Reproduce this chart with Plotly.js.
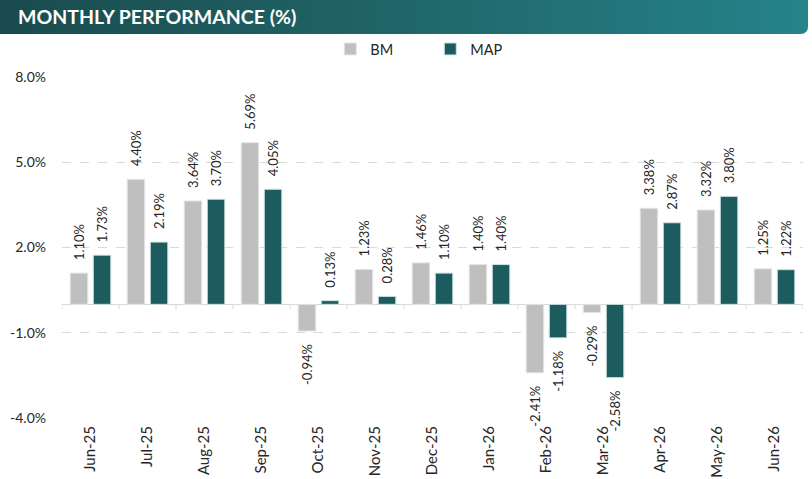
<!DOCTYPE html>
<html>
<head>
<meta charset="utf-8">
<script src="https://cdn.plot.ly/plotly-3.0.1.min.js"></script>
<style>
  html, body { margin: 0; padding: 0; background: #ffffff; }
  #wrap { position: relative; width: 812px; height: 479px; overflow: hidden; }
  #bar { position: absolute; left: 0; top: 0; width: 808px; height: 34px;
         background: linear-gradient(90deg, #1a4b4e 0%, #1f6366 45%, #25838a 100%);
         border-bottom-right-radius: 7px; }
  #chart { position: absolute; left: 0; top: 0; width: 812px; height: 479px; }
</style>
</head>
<body>
<div id="wrap">
  <div id="bar"></div>
  <div id="chart"></div>
</div>
<script>
const months = ["Jun-25","Jul-25","Aug-25","Sep-25","Oct-25","Nov-25","Dec-25","Jan-26","Feb-26","Mar-26","Apr-26","May-26","Jun-26"];
const bmValues = [1.10, 4.40, 3.64, 5.69, -0.94, 1.23, 1.46, 1.40, -2.41, -0.29, 3.38, 3.32, 1.25];
const mapValues = [1.73, 2.19, 3.70, 4.05, 0.13, 0.28, 1.10, 1.40, -1.18, -2.58, 2.87, 3.80, 1.22];
const yTicks = [-4, -1, 2, 5, 8];
const yTickLabels = ["-4.0%", "-1.0%", "2.0%", "5.0%", "8.0%"];

const FONT = "Lato, 'Open Sans', sans-serif";
const PAD = '\u00A0\u00A0\u00A0';

// label template: padding placed on the side facing the bar
function templates(vals) {
  return vals.map(v => v >= 0 ? PAD + '%{y:.2f}%' : '%{y:.2f}%' + PAD);
}

const common = {
  type: 'bar',
  x: months,
  textposition: 'outside',
  textangle: -90,
  constraintext: 'none',
  cliponaxis: false,
  textfont: { family: FONT, size: 13, color: '#262626' },
  hoverinfo: 'skip'
};

const traces = [
  Object.assign({}, common, {
    name: 'BM', y: bmValues, texttemplate: templates(bmValues),
    marker: { color: '#bfbfbf', line: { color: '#e6e6e6', width: 1 } }
  }),
  Object.assign({}, common, {
    name: 'MAP', y: mapValues, texttemplate: templates(mapValues),
    marker: { color: '#1c5c5f', line: { color: '#cfe3e3', width: 1 } }
  })
];

// small tick marks on the zero baseline between categories
const shapes = [];
for (let k = 0; k <= months.length; k++) {
  shapes.push({
    type: 'line', xref: 'x', yref: 'y',
    x0: k - 0.5, x1: k - 0.5,
    ysizemode: 'pixel', yanchor: 0, y0: 0, y1: -5,
    line: { color: '#d9d9d9', width: 1 }
  });
}

const layout = {
  width: 812, height: 479,
  margin: { l: 62, r: 9, t: 77, b: 61 },
  paper_bgcolor: 'rgba(0,0,0,0)',
  plot_bgcolor: 'rgba(0,0,0,0)',
  font: { family: FONT, color: '#262626' },
  title: {
    text: '<b>MONTHLY PERFORMANCE (%)</b>',
    font: { family: FONT, size: 19.5, color: '#ffffff' },
    xref: 'container', yref: 'container',
    x: 18 / 812, xanchor: 'left',
    y: 1 - 17 / 479, yanchor: 'middle'
  },
  barmode: 'group',
  bargap: 0.19,
  bargroupgap: 0.24,
  showlegend: true,
  legend: {
    orientation: 'h',
    x: 0.497, xanchor: 'center',
    y: 1.082, yanchor: 'middle',
    font: { family: FONT, size: 14.5, color: '#262626' },
    entrywidth: 55,
    bgcolor: 'rgba(0,0,0,0)'
  },
  xaxis: {
    type: 'category',
    range: [-0.5, months.length - 0.5],
    tickangle: -90,
    tickfont: { family: FONT, size: 15, color: '#262626' },
    ticklabelstandoff: 4,
    showgrid: false,
    showline: false,
    ticks: '',
    zeroline: false,
    fixedrange: true
  },
  yaxis: {
    range: [-4, 8],
    tickvals: yTicks,
    ticktext: yTickLabels,
    tickfont: { family: FONT, size: 14, color: '#262626' },
    showgrid: true,
    gridcolor: '#d9d9d9',
    griddash: 'dash',
    gridwidth: 1,
    zeroline: true,
    zerolinecolor: '#d9d9d9',
    zerolinewidth: 1,
    showline: false,
    ticks: '',
    ticklabelstandoff: 15,
    fixedrange: true
  },
  shapes: shapes
};

Plotly.newPlot('chart', traces, layout, { displayModeBar: false, staticPlot: true });
</script>
</body>
</html>
